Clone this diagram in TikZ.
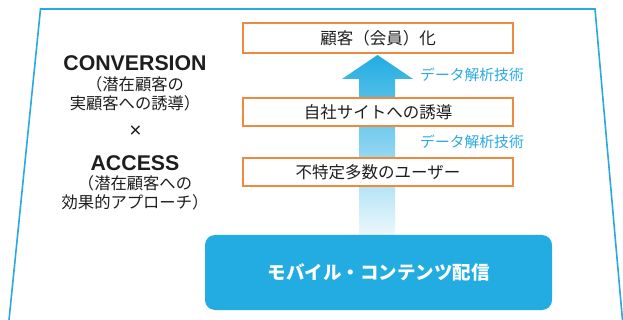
\documentclass[tikz,border=0pt]{standalone}
\usepackage{fontspec}
\setmainfont{Liberation Sans}
\newfontfamily\jp{Noto Sans CJK JP}
\definecolor{cyanline}{HTML}{29A9E0}
\definecolor{boxblue}{HTML}{22ACE2}
\definecolor{orng}{HTML}{EE8A3E}
\definecolor{txt}{HTML}{1E1E1E}
\tikzset{
  stagebox/.style={draw=orng, line width=2pt, fill=white, minimum width=270pt, minimum height=28pt, inner sep=0pt, font=\jp\fontsize{16.5}{19}\selectfont, text=txt},
  datalabel/.style={anchor=west, inner sep=0pt, text=cyanline, font=\jp\fontsize{14.8}{17}\selectfont},
  lefttxt/.style={inner sep=0pt, text=txt, font=\jp\fontsize{16.3}{19}\selectfont},
  leftbold/.style={inner sep=0pt, text=txt, font=\bfseries\fontsize{21.3}{24}\selectfont},
}
\begin{document}
\begin{tikzpicture}[x=1pt,y=-1pt]
\useasboundingbox (0,0) rectangle (623,320);
\begin{scope}
\clip (0,0) rectangle (623,320);
\coordinate (tl) at (40.5,9);
\coordinate (tr) at (595,9);
\coordinate (bl) at (8.5,325);
\coordinate (br) at (623.8,335);
\draw[cyanline, line width=1.6pt, line join=miter] (bl) -- (tl) -- (tr) -- (br);
\end{scope}
% arrow
\shade[top color=boxblue, bottom color=boxblue!6!white]
  (359,240) -- (359,79) -- (342,79) -- (377.5,55) -- (413,79) -- (395,79) -- (395,240) -- cycle;
% stage boxes
\node[stagebox, minimum height=30pt] (b1) at (378,38) {顧客（会員）化};
\node[stagebox] (b2) at (378,112) {自社サイトへの誘導};
\node[stagebox] (b3) at (378,172) {不特定多数のユーザー};
\node[datalabel] (d1) at (420,75) {データ解析技術};
\node[datalabel] (d2) at (420,142) {データ解析技術};
% bottom box
\node[fill=boxblue, rounded corners=10pt, minimum width=347pt, minimum height=75pt, inner sep=0pt, text=white, font=\jp\bfseries\fontsize{18.5}{22}\selectfont] (mb) at (378.5,272.5) {モバイル・コンテンツ配信};
% left text
\node[leftbold] (conv) at (135,63) {CONVERSION};
\node[lefttxt] (c1) at (135,84) {（潜在顧客の};
\node[lefttxt] (c2) at (135,103) {実顧客への誘導）};
\node[inner sep=0pt, text=txt, font=\fontsize{21}{24}\selectfont] (x) at (135.5,131.5) {×};
\node[leftbold] (acc) at (135,163) {ACCESS};
\node[lefttxt] (a1) at (135,183) {（潜在顧客への};
\node[lefttxt] (a2) at (135,202) {効果的アプローチ）};
\end{tikzpicture}
\end{document}
